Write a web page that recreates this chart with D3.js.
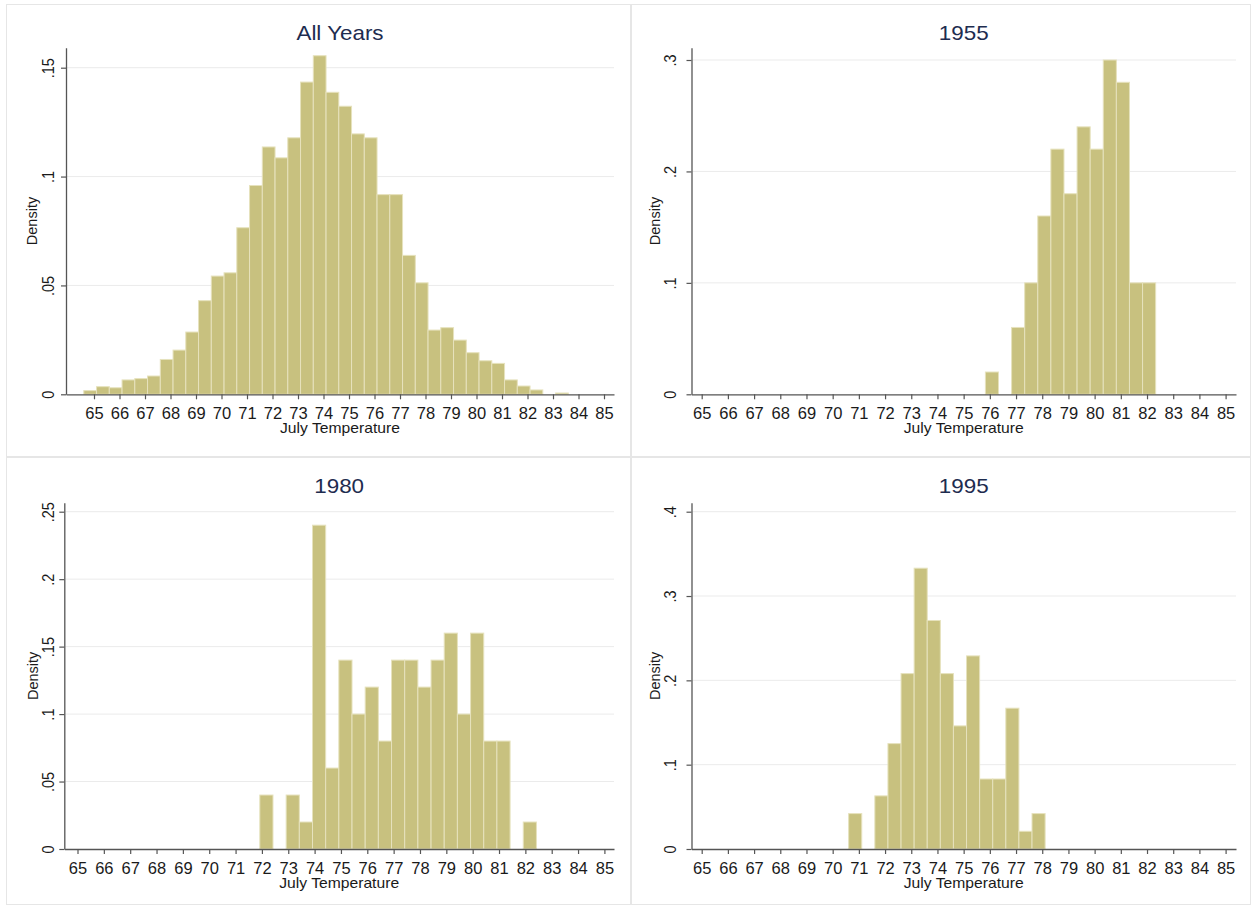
<!DOCTYPE html>
<html>
<head>
<meta charset="utf-8">
<script src="https://cdn.jsdelivr.net/npm/d3@7"></script>
<style>
  body { margin: 0; background: #fff; }
  text { font-family: "Liberation Sans", Arial, sans-serif; }
</style>
</head>
<body>
<div id="graph"></div>
<script>
// tick values
const xTicks = d3.range(65, 86);
const yTicksAll = [0, 0.05, 0.1, 0.15];
const yTicks1955 = [0, 0.1, 0.2, 0.3];
const yTicks1980 = [0, 0.05, 0.1, 0.15, 0.2, 0.25];
const yTicks1995 = [0, 0.1, 0.2, 0.3, 0.4];

// histogram densities, bins of 0.5 degrees starting at the given value
const binWidth = 0.5;
const allYearsStart = 64.6;
const allYears = [0.0017, 0.0035, 0.003, 0.0066, 0.0072, 0.0084, 0.016, 0.0203, 0.0286, 0.043,
  0.0543, 0.0558, 0.0765, 0.0959, 0.1136, 0.1086, 0.1178, 0.1434, 0.1555, 0.1387,
  0.1323, 0.1196, 0.1178, 0.0917, 0.0917, 0.0638, 0.0512, 0.0295, 0.0306, 0.0249,
  0.0191, 0.0154, 0.0142, 0.0066, 0.0038, 0.002, 0, 0.0006];
const start1955 = 75.83;
const y1955 = [0.02, 0, 0.06, 0.10, 0.16, 0.22, 0.18, 0.24, 0.22, 0.30, 0.28, 0.10, 0.10];
const start1980 = 71.92;
const y1980 = [0.04, 0, 0.04, 0.02, 0.24, 0.06, 0.14, 0.10, 0.12, 0.08, 0.14, 0.14, 0.12,
  0.14, 0.16, 0.10, 0.16, 0.08, 0.08, 0, 0.02];
const start1995 = 70.61;
const y1995 = [0.042, 0, 0.063, 0.125, 0.208, 0.333, 0.271, 0.208, 0.146, 0.229, 0.083,
  0.083, 0.167, 0.021, 0.042];

const svg = d3.select("#graph")
  .append("svg")
  .attr("width", 1251)
  .attr("height", 905);

// panel frames
const frames = [[6, 4, 624, 452], [631, 4, 619, 452], [6, 457, 624, 447], [631, 457, 619, 447]];
frames.forEach(f => {
  svg.append("rect")
    .attr("x", f[0] + 0.5).attr("y", f[1] + 0.5)
    .attr("width", f[2]).attr("height", f[3])
    .attr("fill", "none")
    .attr("stroke", "#e6e6e6");
});

const panels = [
  { title: "All Years", data: allYears, start: allYearsStart, yTicks: yTicksAll,
    left: 66, x65: 94, x85: 604, right: 614, y0: 394.3, yTop: 47.7, topTickY: 67.7,
    labelGap: 12, densX: 37, titleY: 39.5 },
  { title: "1955", data: y1955, start: start1955, yTicks: yTicks1955,
    left: 691.5, x65: 701.7, x85: 1225.6, right: 1236, y0: 394.3, yTop: 47.7, topTickY: 60,
    labelGap: 16, densX: 660, titleY: 39.5 },
  { title: "1980", data: y1980, start: start1980, yTicks: yTicks1980,
    left: 64.3, x65: 77.5, x85: 604.4, right: 614, y0: 849, yTop: 502.7, topTickY: 511.7,
    labelGap: 10, densX: 38, titleY: 493 },
  { title: "1995", data: y1995, start: start1995, yTicks: yTicks1995,
    left: 691.5, x65: 701.7, x85: 1225.6, right: 1236, y0: 849, yTop: 502.7, topTickY: 511.7,
    labelGap: 16, densX: 660, titleY: 493 }
];

const fmt = d => d === 0 ? "0" : String(d).replace(/^0/, "");

panels.forEach(p => {
  const g = svg.append("g");

  // scales fitted so that the axis lines run from left to right / y0 to yTop
  const kx = (p.x85 - p.x65) / 20;
  const x = d3.scaleLinear()
    .domain([65 - (p.x65 - p.left) / kx, 85 + (p.right - p.x85) / kx])
    .range([p.left, p.right]);
  const topTick = p.yTicks[p.yTicks.length - 1];
  const ky = (p.y0 - p.topTickY) / topTick;
  const y = d3.scaleLinear()
    .domain([0, (p.y0 - p.yTop) / ky])
    .range([p.y0, p.yTop]);

  // grid lines
  g.selectAll(".grid")
    .data(p.yTicks.filter(d => d > 0))
    .join("line")
    .attr("x1", p.left + 1).attr("x2", p.right)
    .attr("y1", d => y(d)).attr("y2", d => y(d))
    .attr("stroke", "#ebebeb")
    .attr("stroke-width", 1);

  // bars
  g.selectAll(".bar")
    .data(p.data.map((v, i) => ({ x0: p.start + i * binWidth, v: v })).filter(d => d.v > 0))
    .join("rect")
    .attr("x", d => x(d.x0))
    .attr("width", d => x(d.x0 + binWidth) - x(d.x0))
    .attr("y", d => y(d.v))
    .attr("height", d => y(0) - y(d.v))
    .attr("fill", "#c8c17f")
    .attr("stroke", "#e6e2bd")
    .attr("stroke-width", 1);

  // x axis
  const xAxis = g.append("g")
    .attr("transform", `translate(0,${p.y0})`)
    .call(d3.axisBottom(x).tickValues(xTicks).tickSize(5).tickSizeOuter(0));
  xAxis.select(".domain").attr("stroke", "#555").attr("stroke-width", 1.3);
  xAxis.selectAll(".tick line").attr("stroke", "#555").attr("stroke-width", 1.2);
  xAxis.selectAll(".tick text")
    .attr("y", 24.5).attr("dy", 0)
    .attr("fill", "#1a1a1a")
    .style("font-size", "16.5px");

  // y axis
  const yAxis = g.append("g")
    .attr("transform", `translate(${p.left},0)`)
    .call(d3.axisLeft(y).tickValues(p.yTicks).tickSize(5).tickSizeOuter(0).tickFormat(fmt));
  yAxis.select(".domain").attr("stroke", "#555").attr("stroke-width", 1.3);
  yAxis.selectAll(".tick line").attr("stroke", "#555").attr("stroke-width", 1.2);
  yAxis.selectAll(".tick text")
    .attr("transform", "rotate(-90) scale(1,1.1)")
    .attr("x", 0).attr("y", -p.labelGap / 1.1).attr("dy", 0)
    .attr("text-anchor", "middle")
    .attr("fill", "#1a1a1a")
    .style("font-size", "14.5px");

  // titles
  const cx = (p.left + p.right) / 2;
  g.append("text")
    .attr("transform", `translate(${cx},${p.titleY}) scale(1.12,1)`)
    .attr("text-anchor", "middle")
    .attr("fill", "#1e2c4f")
    .style("font-size", "20px")
    .text(p.title);
  g.append("text")
    .attr("transform", `translate(${cx},${p.y0 + 38.5}) scale(1.12,1)`)
    .attr("text-anchor", "middle")
    .attr("fill", "#1a1a1a")
    .style("font-size", "14px")
    .text("July Temperature");
  g.append("text")
    .attr("transform", `translate(${p.densX},${(p.y0 + p.yTop) / 2}) rotate(-90)`)
    .attr("text-anchor", "middle")
    .attr("fill", "#1a1a1a")
    .style("font-size", "14.5px")
    .text("Density");
});
</script>
</body>
</html>
